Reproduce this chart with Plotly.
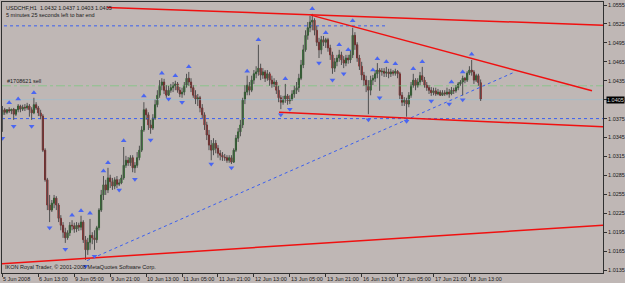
import plotly.graph_objects as go

# ---------------- data (USDCHF H1, bar index 0..213) ----------------
opens = [
1.0381,1.0389,1.0385,1.0389,1.0387,1.0390,1.0382,1.0389,1.0395,1.0390,
1.0393,1.0392,1.0395,1.0389,1.0384,1.0397,1.0392,1.0384,1.0379,1.0325,
1.0278,1.0238,1.0230,1.0241,1.0249,1.0238,1.0217,1.0206,1.0195,1.0186,
1.0194,1.0206,1.0205,1.0200,1.0206,1.0203,1.0211,1.0183,1.0167,1.0179,
1.0190,1.0186,1.0183,1.0202,1.0230,1.0254,1.0270,1.0262,1.0281,1.0275,
1.0268,1.0278,1.0271,1.0273,1.0281,1.0301,1.0309,1.0305,1.0313,1.0297,
1.0301,1.0313,1.0325,1.0357,1.0389,1.0381,1.0365,1.0360,1.0376,1.0397,
1.0412,1.0428,1.0433,1.0420,1.0412,1.0420,1.0424,1.0427,1.0430,1.0420,
1.0414,1.0417,1.0428,1.0439,1.0433,1.0424,1.0412,1.0405,1.0408,1.0392,
1.0381,1.0365,1.0349,1.0333,1.0325,1.0336,1.0328,1.0320,1.0317,1.0314,
1.0313,1.0309,1.0313,1.0306,1.0325,1.0344,1.0354,1.0365,1.0405,1.0417,
1.0428,1.0420,1.0436,1.0446,1.0449,1.0455,1.0444,1.0449,1.0439,1.0446,
1.0436,1.0430,1.0433,1.0420,1.0408,1.0401,1.0405,1.0411,1.0403,1.0406,
1.0414,1.0420,1.0424,1.0439,1.0460,1.0484,1.0507,1.0519,1.0528,1.0531,
1.0515,1.0496,1.0484,1.0500,1.0496,1.0500,1.0487,1.0476,1.0455,1.0465,
1.0471,1.0476,1.0468,1.0463,1.0471,1.0468,1.0476,1.0507,1.0492,1.0471,
1.0458,1.0444,1.0436,1.0428,1.0420,1.0436,1.0439,1.0446,1.0452,1.0449,
1.0450,1.0447,1.0449,1.0446,1.0449,1.0447,1.0450,1.0446,1.0412,1.0401,
1.0405,1.0398,1.0412,1.0428,1.0436,1.0427,1.0433,1.0443,1.0436,1.0428,
1.0424,1.0420,1.0416,1.0419,1.0414,1.0417,1.0412,1.0416,1.0414,1.0417,
1.0414,1.0420,1.0419,1.0424,1.0430,1.0433,1.0439,1.0436,1.0447,1.0452,
1.0449,1.0436,1.0443,1.0432]
highs = [
1.0395,1.0392,1.0390,1.0393,1.0390,1.0392,1.0390,1.0398,1.0397,1.0397,
1.0398,1.0400,1.0398,1.0393,1.0408,1.0401,1.0395,1.0389,1.0382,1.0328,
1.0281,1.0254,1.0246,1.0254,1.0252,1.0241,1.0222,1.0211,1.0202,1.0198,
1.0211,1.0214,1.0210,1.0211,1.0210,1.0221,1.0214,1.0189,1.0186,1.0216,
1.0195,1.0198,1.0205,1.0233,1.0262,1.0284,1.0278,1.0297,1.0286,1.0281,
1.0282,1.0284,1.0279,1.0286,1.0330,1.0316,1.0314,1.0317,1.0317,1.0306,
1.0322,1.0332,1.0363,1.0401,1.0392,1.0385,1.0373,1.0382,1.0405,1.0420,
1.0436,1.0439,1.0438,1.0428,1.0427,1.0430,1.0433,1.0435,1.0433,1.0425,
1.0424,1.0433,1.0446,1.0449,1.0439,1.0428,1.0420,1.0414,1.0411,1.0398,
1.0385,1.0370,1.0357,1.0341,1.0344,1.0341,1.0333,1.0325,1.0322,1.0319,
1.0317,1.0317,1.0317,1.0328,1.0349,1.0360,1.0373,1.0408,1.0428,1.0443,
1.0433,1.0443,1.0452,1.0458,1.0492,1.0462,1.0455,1.0452,1.0452,1.0449,
1.0443,1.0439,1.0436,1.0427,1.0412,1.0411,1.0430,1.0414,1.0412,1.0420,
1.0427,1.0433,1.0446,1.0468,1.0492,1.0515,1.0528,1.0538,1.0541,1.0534,
1.0522,1.0503,1.0506,1.0506,1.0503,1.0503,1.0492,1.0481,1.0471,1.0476,
1.0484,1.0481,1.0474,1.0476,1.0476,1.0484,1.0519,1.0512,1.0496,1.0476,
1.0465,1.0449,1.0443,1.0436,1.0443,1.0444,1.0452,1.0463,1.0455,1.0455,
1.0455,1.0457,1.0454,1.0454,1.0452,1.0454,1.0452,1.0449,1.0417,1.0409,
1.0408,1.0417,1.0433,1.0446,1.0439,1.0439,1.0449,1.0457,1.0441,1.0433,
1.0428,1.0425,1.0424,1.0424,1.0422,1.0420,1.0420,1.0420,1.0424,1.0422,
1.0425,1.0424,1.0428,1.0433,1.0436,1.0443,1.0441,1.0450,1.0458,1.0468,
1.0452,1.0446,1.0446,1.0437]
lows = [
1.0354,1.0381,1.0382,1.0384,1.0382,1.0373,1.0379,1.0385,1.0385,1.0387,
1.0387,1.0389,1.0378,1.0373,1.0382,1.0389,1.0379,1.0374,1.0322,1.0275,
1.0230,1.0211,1.0227,1.0233,1.0230,1.0211,1.0198,1.0186,1.0178,1.0183,
1.0189,1.0198,1.0194,1.0195,1.0197,1.0198,1.0178,1.0151,1.0159,1.0167,
1.0176,1.0167,1.0178,1.0198,1.0227,1.0246,1.0254,1.0257,1.0265,1.0262,
1.0263,1.0265,1.0268,1.0271,1.0278,1.0297,1.0300,1.0300,1.0290,1.0289,
1.0297,1.0309,1.0322,1.0354,1.0373,1.0357,1.0351,1.0357,1.0373,1.0393,
1.0408,1.0420,1.0414,1.0408,1.0411,1.0416,1.0417,1.0420,1.0416,1.0409,
1.0408,1.0412,1.0424,1.0427,1.0417,1.0408,1.0398,1.0395,1.0385,1.0376,
1.0357,1.0341,1.0325,1.0309,1.0317,1.0320,1.0313,1.0309,1.0308,1.0308,
1.0305,1.0305,1.0303,1.0305,1.0322,1.0338,1.0347,1.0360,1.0398,1.0412,
1.0412,1.0417,1.0430,1.0439,1.0443,1.0436,1.0438,1.0433,1.0435,1.0427,
1.0424,1.0425,1.0414,1.0401,1.0390,1.0397,1.0400,1.0397,1.0398,1.0403,
1.0408,1.0414,1.0417,1.0436,1.0455,1.0481,1.0500,1.0512,1.0515,1.0507,
1.0490,1.0471,1.0477,1.0490,1.0487,1.0481,1.0468,1.0446,1.0449,1.0458,
1.0465,1.0460,1.0455,1.0458,1.0462,1.0463,1.0471,1.0484,1.0465,1.0452,
1.0436,1.0427,1.0417,1.0382,1.0412,1.0428,1.0433,1.0439,1.0419,1.0443,
1.0441,1.0441,1.0439,1.0441,1.0443,1.0443,1.0439,1.0406,1.0395,1.0395,
1.0378,1.0393,1.0408,1.0424,1.0420,1.0424,1.0428,1.0433,1.0424,1.0419,
1.0414,1.0411,1.0412,1.0411,1.0412,1.0411,1.0411,1.0411,1.0412,1.0408,
1.0412,1.0414,1.0416,1.0420,1.0427,1.0412,1.0431,1.0433,1.0444,1.0443,
1.0430,1.0433,1.0427,1.0403]
closes = [
1.0389,1.0385,1.0389,1.0387,1.0390,1.0382,1.0389,1.0395,1.0390,1.0393,
1.0392,1.0395,1.0389,1.0384,1.0397,1.0392,1.0384,1.0379,1.0325,1.0278,
1.0238,1.0230,1.0241,1.0249,1.0238,1.0217,1.0206,1.0195,1.0186,1.0194,
1.0206,1.0205,1.0200,1.0206,1.0203,1.0211,1.0183,1.0167,1.0179,1.0190,
1.0186,1.0183,1.0202,1.0230,1.0254,1.0270,1.0262,1.0281,1.0275,1.0268,
1.0278,1.0271,1.0273,1.0281,1.0301,1.0309,1.0305,1.0313,1.0297,1.0301,
1.0313,1.0325,1.0357,1.0389,1.0381,1.0365,1.0360,1.0376,1.0397,1.0412,
1.0428,1.0433,1.0420,1.0412,1.0420,1.0424,1.0427,1.0430,1.0420,1.0414,
1.0417,1.0428,1.0439,1.0433,1.0424,1.0412,1.0405,1.0408,1.0392,1.0381,
1.0365,1.0349,1.0333,1.0325,1.0336,1.0328,1.0320,1.0317,1.0314,1.0313,
1.0309,1.0313,1.0306,1.0325,1.0344,1.0354,1.0365,1.0405,1.0417,1.0428,
1.0420,1.0436,1.0446,1.0449,1.0455,1.0444,1.0449,1.0439,1.0446,1.0436,
1.0430,1.0433,1.0420,1.0408,1.0401,1.0405,1.0411,1.0403,1.0406,1.0414,
1.0420,1.0424,1.0439,1.0460,1.0484,1.0507,1.0519,1.0528,1.0531,1.0515,
1.0496,1.0484,1.0500,1.0496,1.0500,1.0487,1.0476,1.0455,1.0465,1.0471,
1.0476,1.0468,1.0463,1.0471,1.0468,1.0476,1.0507,1.0492,1.0471,1.0458,
1.0444,1.0436,1.0428,1.0420,1.0436,1.0439,1.0446,1.0452,1.0449,1.0450,
1.0447,1.0449,1.0446,1.0449,1.0447,1.0450,1.0446,1.0412,1.0401,1.0405,
1.0398,1.0412,1.0428,1.0436,1.0427,1.0433,1.0443,1.0436,1.0428,1.0424,
1.0420,1.0416,1.0419,1.0414,1.0417,1.0412,1.0416,1.0414,1.0417,1.0414,
1.0420,1.0419,1.0424,1.0430,1.0433,1.0439,1.0436,1.0447,1.0452,1.0449,
1.0436,1.0443,1.0432,1.0405]

# fractal arrows (bar index, price)
frac_up_idx = [3,7,14,31,35,39,45,47,54,63,71,77,83,109,114,126,138,144,150,154,156,165,167,171,175,183,187,200,205,209]
frac_up_px = [1.0400,1.0406,1.0416,1.0222,1.0229,1.0225,1.0292,1.0305,1.0340,1.0411,1.0447,1.0443,1.0457,1.0450,1.0500,1.0438,1.0549,1.0511,1.0492,1.0484,1.0530,1.0452,1.0470,1.0465,1.0462,1.0454,1.0465,1.0433,1.0449,1.0477]
frac_dn_idx = [0,5,13,21,28,37,41,52,59,66,74,80,93,102,124,128,141,147,152,163,168,180,191,199,205]
frac_dn_px = [1.0344,1.0363,1.0363,1.0202,1.0168,1.0141,1.0157,1.0262,1.0279,1.0341,1.0406,1.0401,1.0303,1.0297,1.0381,1.0390,1.0463,1.0436,1.0446,1.0373,1.0408,1.0371,1.0403,1.0398,1.0405]

# trend lines (bar index pairs, price pairs)
red_lines_x = [[46.6, 267.5], [137.4, 262.6], [123.2, 267.5], [-0.2, 267.5]]
red_lines_y = [[1.0551, 1.0523], [1.0539, 1.0419], [1.0385, 1.0362], [1.0145, 1.0206]]
blue_lines_x = [[0.7, 170.4], [-0.2, 267.5], [37.7, 228.3]]
blue_lines_y = [[1.0522, 1.0522], [1.0375, 1.0375], [1.0150, 1.0449]]
order_price = 1.0427
x_range = [-0.2, 267.5]
y_range = [1.01303, 1.05598]

x_tick_idx = [0, 16, 32, 48, 64, 80, 96, 112, 128, 144, 160, 176, 192, 208]
x_tick_labels = ["5 Jun 2008", "6 Jun 13:00", "9 Jun 05:00", "9 Jun 21:00", "10 Jun 13:00",
                 "11 Jun 05:00", "11 Jun 21:00", "12 Jun 13:00", "13 Jun 05:00", "13 Jun 21:00",
                 "16 Jun 13:00", "17 Jun 05:00", "17 Jun 21:00", "18 Jun 13:00"]
y_tick_vals = [1.0555, 1.0525, 1.0495, 1.0465, 1.0435, 1.0405, 1.0375, 1.0345,
               1.0315, 1.0285, 1.0255, 1.0225, 1.0195, 1.0165, 1.0135]

# ---------------- figure ----------------
BG = "#bfb7b5"
TXT = "#1a1a1a"
FONT = "Liberation Sans, Arial, sans-serif"
idx = list(range(len(closes)))

fig = go.Figure()

# horizontal reference lines (bid / order)
fig.add_trace(go.Scatter(x=x_range, y=[closes[-1]] * 2, mode="lines",
                         line=dict(color="#a6bcc8", width=1), hoverinfo="skip"))
fig.add_trace(go.Scatter(x=x_range, y=[order_price] * 2, mode="lines",
                         line=dict(color="#8cc48c", width=1, dash="dashdot"), hoverinfo="skip"))
for xs, ys in zip(blue_lines_x, blue_lines_y):
    fig.add_trace(go.Scatter(x=xs, y=ys, mode="lines",
                             line=dict(color="#3a5ff0", width=1, dash="dot"), hoverinfo="skip"))

# wicks
wx, wy = [], []
for i in idx:
    wx += [i, i, None]
    wy += [lows[i], highs[i], None]
fig.add_trace(go.Scatter(x=wx, y=wy, mode="lines", line=dict(color="#505050", width=1),
                         hoverinfo="skip"))

# bodies
body_hi = [max(o, c) for o, c in zip(opens, closes)]
body_lo = [min(o, c) for o, c in zip(opens, closes)]
fig.add_trace(go.Candlestick(
    x=idx, open=opens, high=body_hi, low=body_lo, close=closes,
    increasing=dict(line=dict(color="#1d661d", width=1), fillcolor="#237323"),
    decreasing=dict(line=dict(color="#8a1818", width=1), fillcolor="#9a1e1e"),
    whiskerwidth=0, hoverinfo="skip"))

for xs, ys in zip(red_lines_x, red_lines_y):
    fig.add_trace(go.Scatter(x=xs, y=ys, mode="lines",
                             line=dict(color="#f01010", width=1.5), hoverinfo="skip"))

fig.add_trace(go.Scatter(x=frac_up_idx, y=frac_up_px, mode="markers",
                         marker=dict(symbol="triangle-up", size=5, color="#4a66f2",
                                     line=dict(width=0)), hoverinfo="skip"))
fig.add_trace(go.Scatter(x=frac_dn_idx, y=frac_dn_px, mode="markers",
                         marker=dict(symbol="triangle-down", size=5, color="#4a66f2",
                                     line=dict(width=0)), hoverinfo="skip"))

annotations = []
for t, lab in zip(x_tick_idx, x_tick_labels):
    annotations.append(dict(x=t, y=0, xref="x", yref="paper", text=lab, showarrow=False,
                            xanchor="left", yanchor="top", yshift=-1, xshift=-1,
                            font=dict(family=FONT, size=5.5, color=TXT)))
annotations += [
    dict(x=0.004, y=0.998, xref="paper", yref="paper", xanchor="left", yanchor="top",
         text="USDCHF,H1  1.0432 1.0437 1.0403 1.0405", showarrow=False,
         font=dict(family=FONT, size=5.5, color=TXT)),
    dict(x=0.004, y=0.972, xref="paper", yref="paper", xanchor="left", yanchor="top",
         text="5 minutes 25 seconds left to bar end", showarrow=False,
         font=dict(family=FONT, size=5.5, color=TXT)),
    dict(x=0.005, y=order_price, xref="paper", yref="y", xanchor="left", yanchor="bottom",
         text="#1708621 sell", showarrow=False, yshift=0,
         font=dict(family=FONT, size=5.5, color=TXT)),
    dict(x=0.002, y=0.002, xref="paper", yref="paper", xanchor="left", yanchor="bottom",
         text="IKON Royal Trader, © 2001-2008 MetaQuotes Software Corp.", showarrow=False,
         font=dict(family=FONT, size=5.5, color=TXT)),
    dict(x=1, y=closes[-1], xref="paper", yref="y", xanchor="left", yanchor="middle",
         text="1.0405", showarrow=False, xshift=3, bgcolor="#000000", borderpad=0,
         font=dict(family=FONT, size=5.5, color="#d8d8d8")),
]

fig.update_layout(
    width=625, height=283,
    margin=dict(l=2, r=22, t=2, b=10, pad=0),
    paper_bgcolor=BG, plot_bgcolor=BG,
    showlegend=False,
    annotations=annotations,
    xaxis=dict(range=x_range, showgrid=False, zeroline=False, rangeslider=dict(visible=False),
               tickvals=x_tick_idx, showticklabels=False, ticks="outside", ticklen=3,
               tickcolor="#303030", showline=True, linecolor="#303030", linewidth=1,
               mirror=True, fixedrange=True),
    yaxis=dict(range=y_range, side="right", showgrid=False, zeroline=False,
               tickvals=y_tick_vals, ticktext=[f"{v:.4f}" for v in y_tick_vals],
               ticks="outside", ticklen=3, tickcolor="#303030",
               tickfont=dict(family=FONT, size=5.5, color=TXT),
               showline=True, linecolor="#303030", linewidth=1, mirror=True,
               automargin=False, fixedrange=True),
)

fig.write_html("out.html")
